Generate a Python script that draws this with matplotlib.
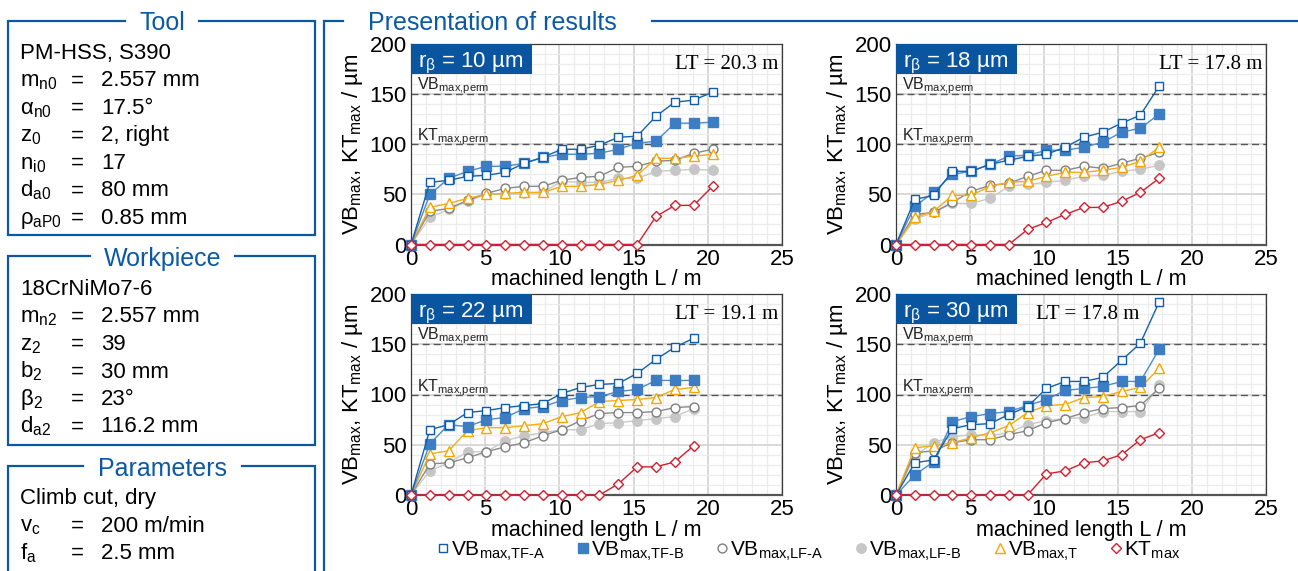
import matplotlib
matplotlib.use("Agg")
import matplotlib.pyplot as plt
import matplotlib.transforms as mtransforms
from matplotlib.lines import Line2D
from matplotlib.patches import Rectangle

plt.rcParams.update({
    "font.family": "Liberation Sans",
    "mathtext.fontset": "custom",
    "mathtext.rm": "Liberation Sans",
    "mathtext.it": "Liberation Sans:italic",
    "mathtext.bf": "Liberation Sans:bold",
})

# ---------------------------------------------------------------- data
# machined length L / m at each measurement
L_203 = [0, 1.27, 2.54, 3.81, 5.08, 6.35, 7.62, 8.89, 10.16, 11.43, 12.70,
         13.97, 15.24, 16.51, 17.78, 19.05, 20.32]
L_191 = [0, 1.27, 2.54, 3.81, 5.08, 6.35, 7.62, 8.89, 10.16, 11.43, 12.70,
         13.97, 15.24, 16.51, 17.78, 19.05]
L_178 = [0, 1.27, 2.54, 3.81, 5.08, 6.35, 7.62, 8.89, 10.16, 11.43, 12.70,
         13.97, 15.24, 16.51, 17.78]

# r_beta = 10 um
TF_A_10 = [0, 62, 64, 68, 69, 72, 81, 87, 95, 95, 99, 107, 108, 128, 142, 144, 152]
TF_B_10 = [0, 50, 66, 73, 78, 78, 81, 87, 90, 90, 91, 95, 101, 103, 121, 121, 122]
LF_A_10 = [0, 33, 36, 44, 51, 56, 58, 58, 64, 67, 68, 77, 78, 83, 84, 91, 95]
LF_B_10 = [0, 27, 35, 43, 50, 50, 51, 52, 63, 62, 62, 66, 66, 73, 74, 75, 74]
T_10 = [0, 37, 41, 46, 50, 51, 52, 52, 58, 58, 60, 64, 69, 86, 86, 88, 90]
KT_10 = [0, 0, 0, 0, 0, 0, 0, 0, 0, 0, 0, 0, 0, 28, 39, 39, 58]

# r_beta = 18 um
TF_A_18 = [0, 45, 49, 73, 73, 80, 84, 88, 90, 97, 107, 112, 121, 129, 158]
TF_B_18 = [0, 38, 52, 70, 73, 80, 88, 89, 94, 94, 97, 102, 112, 116, 130]
LF_A_18 = [0, 30, 32, 42, 53, 59, 61, 68, 74, 74, 78, 76, 81, 86, 92]
LF_B_18 = [0, 25, 32, 41, 41, 46, 58, 60, 62, 64, 68, 69, 73, 75, 79]
T_18 = [0, 27, 33, 49, 49, 58, 62, 63, 68, 72, 72, 74, 77, 83, 97]
KT_18 = [0, 0, 0, 0, 0, 0, 0, 15, 22, 30, 37, 37, 43, 52, 66]

# r_beta = 22 um
TF_A_22 = [0, 65, 70, 82, 84, 87, 89, 91, 101, 107, 110, 111, 121, 135, 147, 156]
TF_B_22 = [0, 51, 70, 68, 75, 77, 86, 88, 94, 97, 98, 103, 105, 114, 114, 114]
LF_A_22 = [0, 31, 32, 37, 43, 48, 52, 59, 65, 74, 81, 82, 82, 83, 87, 88]
LF_B_22 = [0, 24, 32, 43, 43, 54, 59, 62, 65, 65, 71, 72, 74, 76, 78, 86]
T_22 = [0, 41, 44, 64, 67, 67, 69, 71, 78, 82, 93, 94, 95, 97, 105, 107]
KT_22 = [0, 0, 0, 0, 0, 0, 0, 0, 0, 0, 0, 11, 28, 28, 33, 49]

# r_beta = 30 um
TF_A_30 = [0, 32, 35, 66, 70, 71, 80, 88, 106, 113, 113, 117, 134, 151, 192]
TF_B_30 = [0, 20, 33, 73, 78, 81, 83, 89, 95, 104, 106, 108, 113, 113, 145]
LF_A_30 = [0, 42, 44, 52, 55, 55, 60, 64, 72, 76, 82, 86, 87, 89, 106]
LF_B_30 = [0, 39, 52, 58, 60, 59, 62, 70, 74, 76, 77, 83, 83, 83, 109]
T_30 = [0, 47, 49, 52, 57, 62, 69, 82, 89, 90, 97, 98, 103, 107, 126]
KT_30 = [0, 0, 0, 0, 0, 0, 0, 0, 21, 24, 32, 34, 40, 55, 62]

R_BETA = ["10", "18", "22", "30"]
TOOL_LIFE = ["20.3", "17.8", "19.1", "17.8"]
VB_PERM = 150
KT_PERM = 100

TOOL_HEAD = "PM-HSS, S390"
TOOL_ROWS = [("m$_\\text{n0}$", "2.557 mm"), ("α$_\\text{n0}$", "17.5°"),
             ("z$_\\text{0}$", "2, right"), ("n$_\\text{i0}$", "17"),
             ("d$_\\text{a0}$", "80 mm"), ("ρ$_\\text{aP0}$", "0.85 mm")]
WORK_HEAD = "18CrNiMo7-6"
WORK_ROWS = [("m$_\\text{n2}$", "2.557 mm"), ("z$_\\text{2}$", "39"),
             ("b$_\\text{2}$", "30 mm"), ("β$_\\text{2}$", "23°"),
             ("d$_\\text{a2}$", "116.2 mm")]
PARAM_HEAD = "Climb cut, dry"
PARAM_ROWS = [("v$_\\text{c}$", "200 m/min"), ("f$_\\text{a}$", "2.5 mm")]

# ---------------------------------------------------------------- styles
BLUE = "#0b59a5"
STYLES = {
    "TF_A": dict(marker="s", ms=6.2, mfc="white", mec="#0f5ca8", color="#1461ac", mew=1.0),
    "TF_B": dict(marker="s", ms=6.8, mfc="#3c7dc3", mec="#3c7dc3", color="#4e8bcb", mew=1.0),
    "LF_A": dict(marker="o", ms=6.4, mfc="white", mec="#7f7f7f", color="#8a8a8a", mew=1.0),
    "LF_B": dict(marker="o", ms=6.8, mfc="#c6c6c6", mec="#c6c6c6", color="#cacaca", mew=1.0),
    "T": dict(marker="^", ms=6.8, mfc="white", mec="#f3a700", color="#f1ad1a", mew=1.0),
    "KT": dict(marker="D", ms=4.6, mfc="white", mec="#d21f30", color="#d21f30", mew=1.0),
}
LABELS = {
    "TF_A": "VB$_\\text{max,TF-A}$",
    "TF_B": "VB$_\\text{max,TF-B}$",
    "LF_A": "VB$_\\text{max,LF-A}$",
    "LF_B": "VB$_\\text{max,LF-B}$",
    "T": "VB$_\\text{max,T}$",
    "KT": "KT$_\\text{max}$",
}
DRAW_ORDER = ["LF_B", "LF_A", "T", "TF_B", "TF_A", "KT"]
LEGEND_ORDER = ["TF_A", "TF_B", "LF_A", "LF_B", "T", "KT"]

W, H = 1298, 571
fig = plt.figure(figsize=(W / 100, H / 100), dpi=100)
fig.patch.set_facecolor("white")

# ---------------------------------------------------------------- side panel
frame = fig.add_axes([0, 0, 1, 1])
frame.set_xlim(0, W)
frame.set_ylim(H, 0)
frame.axis("off")


def fieldset(x0, x1, y0, y1, g0, g1, title, ty):
    frame.plot([g0, x0, x0, x1, x1, g1], [y0, y0, y1, y1, y0, y0], color=BLUE,
               lw=1.6, solid_joinstyle="miter", clip_on=False)
    frame.text((g0 + g1) / 2, ty, title, color=BLUE, fontsize=18,
               ha="center", va="baseline")


def field_rows(head, rows, y_head, step=27.5):
    frame.text(20, y_head, head, fontsize=16, va="baseline")
    for i, (lab, val) in enumerate(rows):
        y = y_head + step * (i + 1)
        frame.text(20, y, lab, fontsize=16, va="baseline")
        frame.text(77, y, "=", fontsize=16, va="baseline", ha="center")
        frame.text(101, y, val, fontsize=16, va="baseline")


fieldset(8, 315, 21, 235, 125, 199, "Tool", 30)
field_rows(TOOL_HEAD, TOOL_ROWS, 59)
fieldset(8, 315, 256, 445, 90, 235, "Workpiece", 266)
field_rows(WORK_HEAD, WORK_ROWS, 295)
fieldset(8, 315, 466, 590, 83, 242, "Parameters", 476)
field_rows(PARAM_HEAD, PARAM_ROWS, 504)

frame.plot([343, 324, 324], [21, 21, 590], color=BLUE, lw=1.6,
           solid_joinstyle="miter", clip_on=False)
frame.plot([652, W + 5], [21, 21], color=BLUE, lw=1.6, clip_on=False)
frame.text(368, 30, "Presentation of results", color=BLUE, fontsize=18, va="baseline")

# ---------------------------------------------------------------- charts
PANELS = [
    dict(box=(411, 44, 782, 244.5), L=L_203, TF_A=TF_A_10, TF_B=TF_B_10, LF_A=LF_A_10,
         LF_B=LF_B_10, T=T_10, KT=KT_10, r=R_BETA[0], lt=TOOL_LIFE[0], lt_x=0.989, lt_ha="right"),
    dict(box=(896, 44, 1266, 244.5), L=L_178, TF_A=TF_A_18, TF_B=TF_B_18, LF_A=LF_A_18,
         LF_B=LF_B_18, T=T_18, KT=KT_18, r=R_BETA[1], lt=TOOL_LIFE[1], lt_x=0.989, lt_ha="right"),
    dict(box=(411, 294, 782, 495), L=L_191, TF_A=TF_A_22, TF_B=TF_B_22, LF_A=LF_A_22,
         LF_B=LF_B_22, T=T_22, KT=KT_22, r=R_BETA[2], lt=TOOL_LIFE[2], lt_x=0.989, lt_ha="right"),
    dict(box=(896, 294, 1266, 495), L=L_178, TF_A=TF_A_30, TF_B=TF_B_30, LF_A=LF_A_30,
         LF_B=LF_B_30, T=T_30, KT=KT_30, r=R_BETA[3], lt=TOOL_LIFE[3], lt_x=0.519, lt_ha="center"),
]

for p in PANELS:
    x0, y0, x1, y1 = p["box"]
    ax = fig.add_axes([x0 / W, 1 - y1 / H, (x1 - x0) / W, (y1 - y0) / H])
    ax.set_xlim(0, 25)
    ax.set_ylim(0, 200)
    ax.set_xticks(range(0, 26, 5))
    ax.set_xticks(range(0, 26, 1), minor=True)
    ax.set_yticks(range(0, 201, 50))
    ax.set_yticks(range(0, 201, 10), minor=True)
    ax.grid(which="minor", color="#ececec", lw=0.9)
    ax.grid(which="major", color="#d6d6d6", lw=1.3)
    ax.set_axisbelow(True)
    ax.tick_params(which="both", length=0, labelsize=16)
    ax.tick_params(axis="x", pad=3)
    ax.tick_params(axis="y", pad=3)
    for s in ("top", "right", "left"):
        ax.spines[s].set_color("#3a3a3a")
        ax.spines[s].set_linewidth(0.9)
    ax.spines["bottom"].set_color("#555555")
    ax.spines["bottom"].set_linewidth(1.6)

    ax.axhline(VB_PERM, color="#555555", lw=1.0, dashes=(5, 3), zorder=1.5)
    ax.axhline(KT_PERM, color="#555555", lw=1.0, dashes=(5, 3), zorder=1.5)
    blend = mtransforms.blended_transform_factory(ax.transAxes, ax.transData)
    ax.text(0.016, VB_PERM + 5, "VB$_\\text{max,perm}$", transform=blend,
            fontsize=11.5, va="baseline", color="#222222")
    ax.text(0.016, KT_PERM + 3.5, "KT$_\\text{max,perm}$", transform=blend,
            fontsize=11.5, va="baseline", color="#222222")

    for i, key in enumerate(DRAW_ORDER):
        ax.plot(p["L"], p[key], lw=1.0, clip_on=False, zorder=3 + i, **STYLES[key])

    ax.add_patch(Rectangle((0, 1 - 30 / 200.5), 121 / 371, 30 / 200.5,
                           transform=ax.transAxes, facecolor="#0a55a0",
                           edgecolor="none", zorder=20, clip_on=False))
    ax.text(0.019, 0.885, "r$_\\text{β}$ = " + p["r"] + " µm", transform=ax.transAxes,
            color="white", fontsize=16, va="baseline", zorder=21)
    ax.text(p["lt_x"], 0.877, "LT = " + p["lt"] + " m", transform=ax.transAxes,
            ha=p["lt_ha"], va="baseline", fontsize=15,
            family="Liberation Serif", zorder=21)

    ax.set_xlabel("machined length L / m", fontsize=15.5)
    ax.set_ylabel("VB$_\\text{max}$, KT$_\\text{max}$ / µm", fontsize=16)
    ax.xaxis.set_label_coords(0.5, -0.122)
    ax.yaxis.set_label_coords(-0.124, 0.5)

# ---------------------------------------------------------------- legend
handles = [Line2D([], [], linestyle="none", **{k: v for k, v in STYLES[key].items()
                                              if k != "color"})
           for key in LEGEND_ORDER]
fig.legend(handles, [LABELS[k] for k in LEGEND_ORDER], loc="center",
           bbox_to_anchor=(809 / W, 1 - 551 / H), ncol=6, frameon=False,
           fontsize=15, handlelength=0.5, handletextpad=0.12, columnspacing=1.58,
           borderaxespad=0, borderpad=0)

fig.savefig("out.png", dpi=100, facecolor="white")
